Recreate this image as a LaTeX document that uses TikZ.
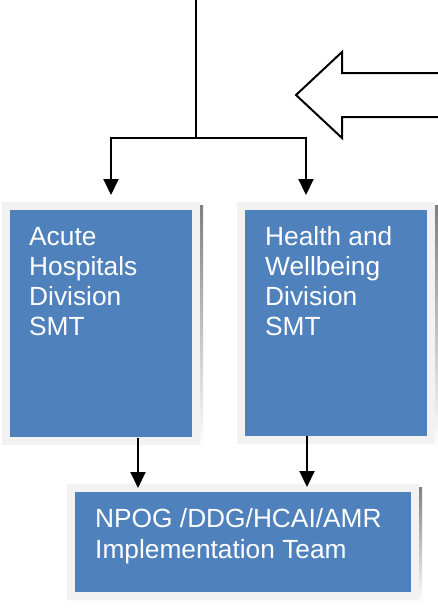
\documentclass[tikz,border=0pt]{standalone}
\usepackage{fontspec}
\setmainfont{Liberation Sans}
\usetikzlibrary{arrows.meta,calc,backgrounds}
\definecolor{boxblue}{HTML}{4F81BD}
\definecolor{rim}{HTML}{F2F2F2}
\definecolor{shade}{HTML}{98A3B6}
\begin{document}
\begin{tikzpicture}[x=1pt,y=-1pt,
  box/.style={draw=rim, line width=8pt, fill=boxblue, outer sep=0pt, inner sep=0pt, anchor=north west},
  lbl/.style={text=white, font=\fontsize{26.3}{30}\selectfont, align=left, anchor=base west, inner sep=0pt},
  conn/.style={line width=2pt, draw=black},
  arr/.style={conn, -{Triangle[length=16pt,width=15pt]}},
  hollow/.style={line width=2pt, draw=black, fill=white, line join=miter}]
\useasboundingbox (0,0) rectangle (438,608);
\clip (0,0) rectangle (438,608);

% boxes
\node[box, minimum width=190pt, minimum height=235pt] (b1) at (6,206) {};
\node[box, minimum width=190pt, minimum height=234pt] (b2) at (241,206) {};
\node[box, minimum width=344pt, minimum height=108pt] (b3) at (71,488) {};

% shadows
\begin{pgfonlayer}{background}
  \fill[shade] ($(b1.north west)+(-1,-1)$) rectangle ($(b1.south east)+(7,7)$);
  \fill[shade] ($(b2.north west)+(-1,-1)$) rectangle ($(b2.south east)+(7,7)$);
  \fill[shade] ($(b3.north west)+(-1,-1)$) rectangle ($(b3.south east)+(7,8)$);
\end{pgfonlayer}

% texts (anchored at the baseline of the last line)
\node[lbl] (t1) at (29,335.5) {Acute\\Hospitals\\Division\\SMT};
\node[lbl] (t2) at (265,335) {Health and\\Wellbeing\\Division\\SMT};
\node[lbl, font=\fontsize{26.3}{31}\selectfont] (t3) at (95,558) {NPOG /DDG/HCAI/AMR\\Implementation Team};

% connectors
\coordinate (top) at (196,-2);
\coordinate (split) at (196,137.5);
\draw[conn] (top) -- (split);
\draw[arr] (split) -| ([xshift=10pt,yshift=11pt]b1.north);
\draw[arr] (split) -| ([xshift=-30pt,yshift=11pt]b2.north);
\draw[arr] ([xshift=37pt,yshift=3pt]b1.south) -- ([xshift=-105pt]b3.north);
\draw[arr] ([xshift=-29pt,yshift=4pt]b2.south) -- ([xshift=64pt,yshift=1pt]b3.north);

% big hollow arrow
\draw[hollow] (445,73) -- (342,73) -- (342,52) -- (296,95) -- (342,138) -- (342,117) -- (445,117);
\end{tikzpicture}
\end{document}
